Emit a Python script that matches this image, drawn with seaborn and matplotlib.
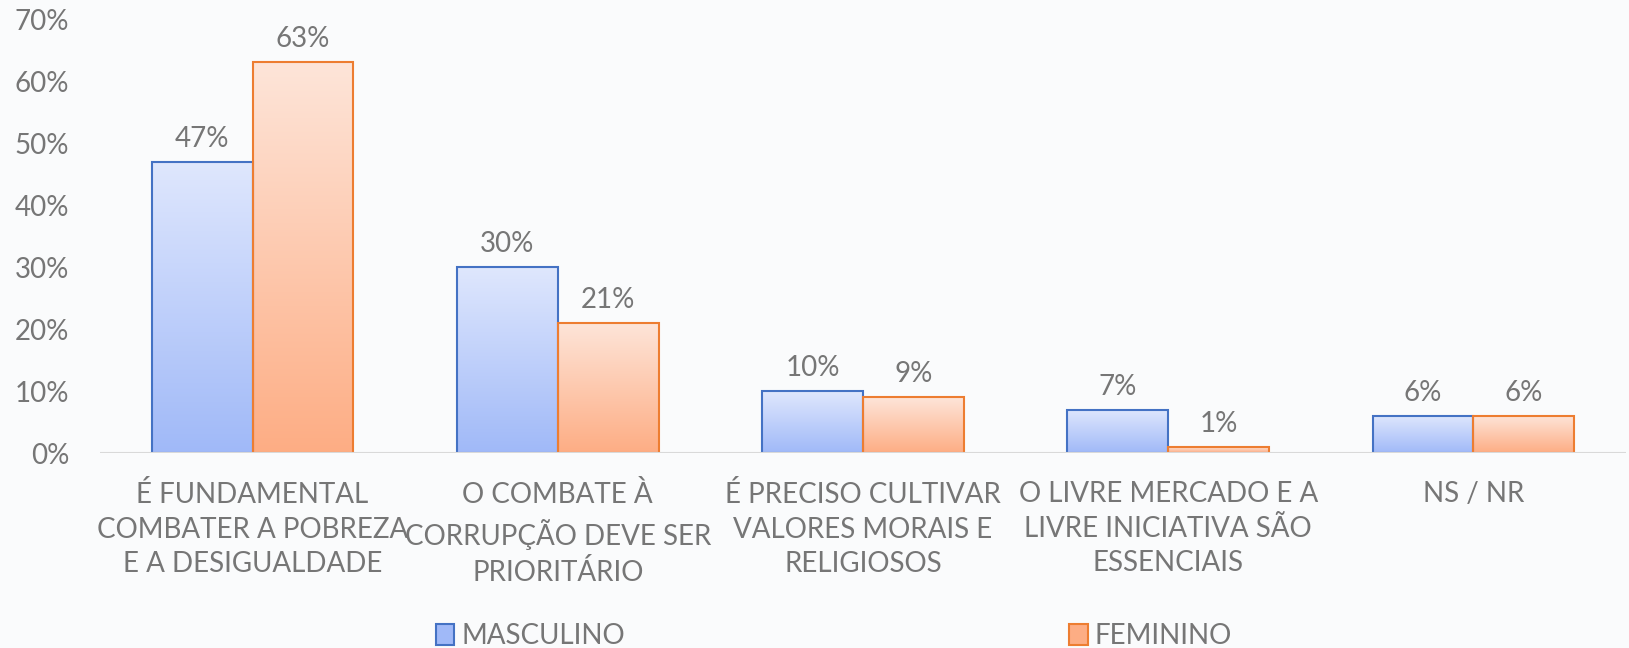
import numpy as np
import pandas as pd
import matplotlib
matplotlib.use("Agg")
import matplotlib.pyplot as plt
import seaborn as sns
from matplotlib.colors import LinearSegmentedColormap
from matplotlib.patches import Patch

categories = [
    "É FUNDAMENTAL\nCOMBATER A POBREZA\nE A DESIGUALDADE",
    "O COMBATE À\nCORRUPÇÃO DEVE SER\nPRIORITÁRIO",
    "É PRECISO CULTIVAR\nVALORES MORAIS E\nRELIGIOSOS",
    "O LIVRE MERCADO E A\nLIVRE INICIATIVA SÃO\nESSENCIAIS",
    "NS / NR",
]
masculino = [0.47, 0.30, 0.10, 0.07, 0.06]
feminino = [0.63, 0.21, 0.09, 0.01, 0.06]
series = ["MASCULINO", "FEMININO"]
yticks = [0, 0.1, 0.2, 0.3, 0.4, 0.5, 0.6, 0.7]

df = pd.DataFrame({
    "categoria": categories * 2,
    "sexo": [series[0]] * len(categories) + [series[1]] * len(categories),
    "valor": masculino + feminino,
})

sns.set_theme(style="white")
plt.rcParams["font.family"] = ["Lato", "DejaVu Sans"]
text_color = "#767676"
fs = 20

edge = {"MASCULINO": "#4472c4", "FEMININO": "#ed7d31"}
grad = {
    "MASCULINO": ("#dfe7fd", "#a0b9f8"),
    "FEMININO": ("#fee5d9", "#fdad84"),
}

fig = plt.figure(figsize=(16.29, 6.48), dpi=100)
fig.patch.set_facecolor("#fafbfc")
ax = fig.add_axes([100 / 1629, 1 - 453 / 648, 1526 / 1629, 434 / 648])
ax.set_facecolor("none")

sns.barplot(data=df, x="categoria", y="valor", hue="sexo", order=categories,
            hue_order=series, width=0.66, gap=0, palette=edge, ax=ax,
            legend=False, errorbar=None)

# gradient fill for each bar, clipped to the bar rectangle
ncat = len(categories)
for i, patch in enumerate(ax.patches):
    s = series[i // ncat]
    x0, w = patch.get_x(), patch.get_width()
    h = patch.get_height()
    top_c, bot_c = grad[s]
    cmap = LinearSegmentedColormap.from_list(s, [bot_c, top_c])
    img = ax.imshow(np.linspace(0, 1, 256).reshape(-1, 1), cmap=cmap,
                    extent=[x0, x0 + w, 0, h], origin="lower",
                    aspect="auto", zorder=1.5)
    img.set_clip_path(patch)
    patch.set_facecolor("none")
    patch.set_edgecolor(edge[s])
    patch.set_linewidth(1.5)
    patch.set_zorder(2)
    ax.text(x0 + w / 2, h + 0.016, f"{round(h * 100)}%", ha="center",
            va="bottom", fontsize=fs, color=text_color)

ax.set_xlim(-0.5, ncat - 0.5)
ax.set_ylim(0, 0.7)
ax.set_yticks(yticks)
ax.set_yticklabels([f"{int(round(t * 100))}%" for t in yticks])
ax.tick_params(axis="y", length=0, pad=22, labelsize=fs, labelcolor=text_color)
ax.tick_params(axis="x", length=0, pad=20, labelsize=fs, labelcolor=text_color)
for lbl in ax.get_xticklabels():
    lbl.set_linespacing(1.42)
ax.set_xlabel("")
ax.set_ylabel("")
for sp in ax.spines.values():
    sp.set_visible(False)
ax.axhline(0, color="#d9d9d9", lw=1.5, zorder=3)

handles = [Patch(facecolor=grad[s][1], edgecolor=edge[s], linewidth=1.5, label=s)
           for s in series]
leg = fig.legend(handles=handles, loc="center", bbox_to_anchor=(0.512, 1 - 636 / 648),
                 ncol=2, frameon=False, fontsize=fs, handlelength=0.65,
                 handleheight=0.8, handletextpad=0.25, columnspacing=16,
                 borderaxespad=0, borderpad=0)
for t in leg.get_texts():
    t.set_color(text_color)

fig.savefig("out.png", dpi=100, facecolor=fig.get_facecolor())
